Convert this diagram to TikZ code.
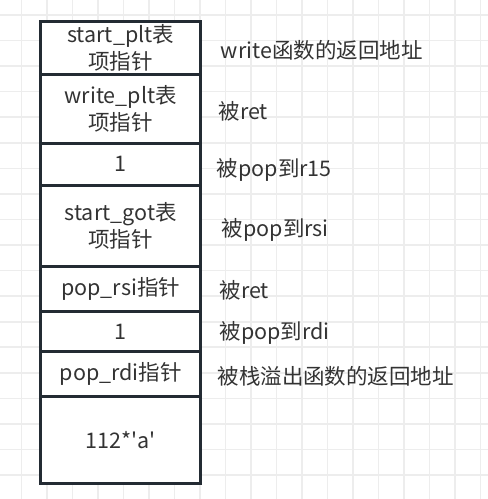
\documentclass[tikz,border=0pt]{standalone}
\usepackage{fontspec}
\setmainfont{Noto Sans CJK SC}
\usetikzlibrary{positioning}
\definecolor{gridgray}{HTML}{EDEDED}
\definecolor{edge}{HTML}{232B33}
\definecolor{ink}{HTML}{333333}
\tikzset{
  cell/.style={draw=edge, line width=3pt, fill=white, minimum width=160pt, inner sep=0pt, align=center, text=ink, font=\fontsize{21.5}{27}\selectfont},
  note/.style={anchor=west, inner sep=0pt, text=ink, font=\fontsize{21.5}{26}\selectfont}
}
\begin{document}
\begin{tikzpicture}[x=1pt,y=-1pt]
                    \useasboundingbox[fill=white] (0,0) rectangle (488,499);
                    % 网格
                    \foreach \k in {0,...,18} {
                        \draw[gridgray, line width=1.6pt] ({21.3+25.51*\k},0) -- ({21.3+25.51*\k},499);
                        \draw[gridgray, line width=1.6pt] (0,{15+25.56*\k}) -- (488,{15+25.56*\k});
                    }

                    % 栈
                    \node[cell, minimum height=53pt] (startplt) at (120.7,48.2) {\raisebox{-2pt}{start\_plt表}\\\raisebox{-2pt}{项指针}};
                    \node[cell, minimum height=68.6pt] (writeplt) at (120.7,109) {write\_plt表\\项指针};
                    \node[cell, minimum height=41.7pt] (one1) at (120.7,164.15) {1};
                    \node[cell, minimum height=81.7pt] (startgot) at (120.7,225.85) {start\_got表\\项指针};
                    \node[cell, minimum height=44.3pt] (poprsi) at (120.7,288.85) {pop\_rsi指针};
                    \node[cell, minimum height=40.7pt] (one2) at (120.7,331.35) {1};
                    \node[cell, minimum height=45pt] (poprdi) at (120.7,374.2) {pop\_rdi指针};
                    \node[cell, minimum height=86.6pt] (pad) at (120.7,440) {112*\textquotesingle a\textquotesingle};

                    % 说明
                    \node[note] (nwrite) at (220.7,50) {write函数的返回地址};
                    \node[note] (nret1) at (218.3,111.7) {被ret};
                    \node[note] (nr15) at (216.7,170) {被pop到r15};
                    \node[note] (nrsi) at (221.7,230) {被pop到rsi};
                    \node[note] (nret2) at (219.3,290) {被ret};
                    \node[note] (nrdi) at (219.3,333.3) {被pop到rdi};
                    \node[note] (nover) at (217.3,376.7) {被栈溢出函数的返回地址};
                \end{tikzpicture}
\end{document}
